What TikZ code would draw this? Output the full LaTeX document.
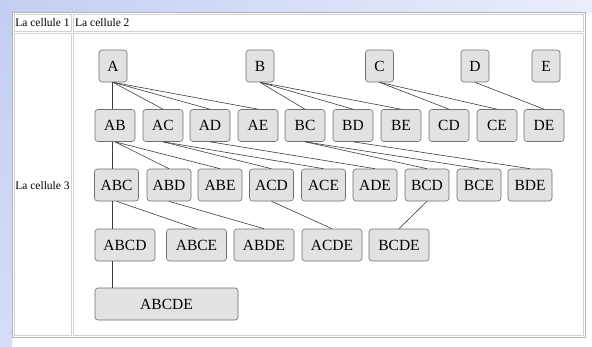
\documentclass[tikz,border=0pt]{standalone}
\usepackage{fontspec}
\setmainfont{Liberation Serif}
\definecolor{bgblue}{RGB}{196,206,242}
\definecolor{boxfill}{RGB}{226,226,226}
\definecolor{boxdraw}{RGB}{112,112,112}
\definecolor{edgecol}{RGB}{60,60,60}
\definecolor{tabline}{RGB}{180,180,180}
\definecolor{cellline}{RGB}{210,210,210}
\begin{document}
\begin{tikzpicture}[x=1pt,y=-1pt,
  cell/.style={inner sep=0pt, font=\fontsize{11.5}{12}\selectfont},
  box/.style={draw=boxdraw, fill=boxfill, rounded corners=3pt, minimum height=32pt, inner sep=0pt, line width=0.6pt, font=\fontsize{15.5}{16}\selectfont},
  w1/.style={box, minimum width=28pt},
  w2/.style={box, minimum width=40pt},
  w3/.style={box, minimum width=44pt},
  w4/.style={box, minimum width=60pt},
  w5/.style={box, minimum width=143pt},
  edge/.style={draw=edgecol, line width=0.6pt}]
\useasboundingbox (0,0) rectangle (592,346);
\fill[white] (0,0) rectangle (592,346);
\shade[left color=bgblue, right color=bgblue!35] (0,0) rectangle (592,12);
\shade[top color=bgblue, bottom color=bgblue!70] (0,12) rectangle (12,346);
% table
\draw[tabline, line width=0.8pt] (12.5,12.5) rectangle (585.5,337.5);
\draw[cellline, line width=0.6pt] (14.5,14.5) rectangle (71.5,31.5);
\draw[cellline, line width=0.6pt] (73,14.5) rectangle (583.5,31.5);
\draw[cellline, line width=0.6pt] (14.5,33) rectangle (71.5,335.5);
\draw[cellline, line width=0.6pt] (73,33) rectangle (583.5,335.5);
\node[cell] (c1) at (42.5,23) {La cellule 1};
\node[cell, anchor=west] (c2) at (75,23) {La cellule 2};
\node[cell] (c3) at (42.5,186) {La cellule 3};
% spine
\coordinate (spine) at (112,0);
% row 1
\node[w1] (A) at (113,66) {A};
\node[w1] (B) at (260,66) {B};
\node[w1] (C) at (379.5,66) {C};
\node[w1] (D) at (475,66) {D};
\node[w1] (E) at (546,66) {E};
% row 2
\node[w2] (AB) at (115,125.5) {AB};
\node[w2] (AC) at (163,125.5) {AC};
\node[w2] (AD) at (210,125.5) {AD};
\node[w2] (AE) at (258,125.5) {AE};
\node[w2] (BC) at (305,125.5) {BC};
\node[w2] (BD) at (353,125.5) {BD};
\node[w2] (BE) at (401,125.5) {BE};
\node[w2] (CD) at (449,125.5) {CD};
\node[w2] (CE) at (497,125.5) {CE};
\node[w2] (DE) at (544,125.5) {DE};
% row 3
\node[w3] (ABC) at (116.5,185) {ABC};
\node[w3] (ABD) at (169,185) {ABD};
\node[w3] (ABE) at (220,185) {ABE};
\node[w3] (ACD) at (271.5,185) {ACD};
\node[w3] (ACE) at (323.5,185) {ACE};
\node[w3] (ADE) at (375,185) {ADE};
\node[w3] (BCD) at (427,185) {BCD};
\node[w3] (BCE) at (479,185) {BCE};
\node[w3] (BDE) at (530,185) {BDE};
% row 4
\node[w4] (ABCD) at (125,245) {ABCD};
\node[w4] (ABCE) at (196.5,245) {ABCE};
\node[w4] (ABDE) at (264,245) {ABDE};
\node[w4] (ACDE) at (332,245) {ACDE};
\node[w4] (BCDE) at (399,245) {BCDE};
% row 5
\node[w5] (ABCDE) at (166.5,304) {ABCDE};
% edges: spine
\draw[edge] (A.south -| spine) -- (AB.north -| spine);
\draw[edge] (AB.south -| spine) -- (ABC.north -| spine);
\draw[edge] (ABC.south -| spine) -- (ABCD.north -| spine);
\draw[edge] (ABCD.south -| spine) -- (ABCDE.north -| spine);
% row 1 -> 2
\foreach \p/\c in {A/AC, A/AD, A/AE, B/BC, B/BD, B/BE, C/CD, C/CE, D/DE}
  \draw[edge] (\p.south) -- (\c.north);
% row 2 -> 3
\foreach \p/\c in {AB/ABD, AB/ABE, AC/ACD, AC/ACE, AD/ADE, BC/BCD, BC/BCE, BD/BDE}
  \draw[edge] (\p.south) -- (\c.north);
% row 3 -> 4
\foreach \p/\c in {ABC/ABCE, ABD/ABDE, ACD/ACDE, BCD/BCDE}
  \draw[edge] (\p.south) -- (\c.north);
\end{tikzpicture}
\end{document}
